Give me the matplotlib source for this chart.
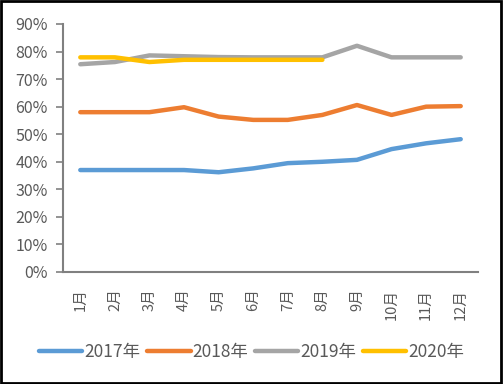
import matplotlib
matplotlib.use("Agg")
import matplotlib.pyplot as plt
from matplotlib.patches import Rectangle
from matplotlib.ticker import FuncFormatter

plt.rcParams['font.family'] = ['Noto Sans CJK SC', 'DejaVu Sans']

months = ["1月", "2月", "3月", "4月", "5月", "6月", "7月", "8月", "9月", "10月", "11月", "12月"]
s2017 = [37.0, 37.0, 37.0, 37.0, 36.2, 37.6, 39.5, 40.0, 40.7, 44.6, 46.7, 48.2]
s2018 = [58.0, 58.0, 58.0, 59.8, 56.4, 55.2, 55.2, 57.0, 60.6, 57.0, 60.0, 60.2]
s2019 = [75.4, 76.2, 78.6, 78.3, 78.0, 77.9, 77.9, 77.9, 82.1, 77.9, 77.9, 77.9]
s2020 = [77.9, 77.9, 76.2, 77.0, 77.0, 77.0, 77.0, 77.0]
series_names = ["2017年", "2018年", "2019年", "2020年"]
colors = ["#5B9BD5", "#ED7D31", "#A5A5A5", "#FFC000"]

fig = plt.figure(figsize=(5.03, 3.84), dpi=100)
ax = fig.add_axes([63/503, 1-272/384, (478-63)/503, (272-24)/384])

x = list(range(len(months)))
for data, name, c in zip([s2017, s2018, s2019, s2020], series_names, colors):
    ax.plot(x[:len(data)], [v/100 for v in data], color=c, lw=3.2, label=name,
            solid_capstyle='round', solid_joinstyle='round')

ax.set_xlim(-0.5, len(months)-0.5)
ax.set_ylim(0, 0.9)
ax.set_yticks([i/10 for i in range(10)])
ax.yaxis.set_major_formatter(FuncFormatter(lambda v, p: f"{int(round(v*100))}%"))
ax.set_xticks(x)
ax.set_xticklabels(months, rotation=90)
ax.tick_params(axis='y', colors='#808080', labelcolor='#595959', labelsize=11.5, length=5, width=1.2, pad=6)
ax.tick_params(axis='x', length=0, labelcolor='#595959', labelsize=10.5, pad=12)
for s in ['top', 'right']:
    ax.spines[s].set_visible(False)
for s in ['left', 'bottom']:
    ax.spines[s].set_color('#808080')
    ax.spines[s].set_linewidth(1.5)

leg = fig.legend(loc='center', bbox_to_anchor=(0.5, 1-352/384), ncol=4, frameon=False,
                 fontsize=12.5, handlelength=2.5, columnspacing=0.4, handletextpad=0.1,
                 labelcolor='#595959')

fig.patches.append(Rectangle((0.002, 0.003), 0.994, 0.994, transform=fig.transFigure,
                             fill=False, edgecolor='black', lw=2))
fig.savefig("out.png", dpi=100)
